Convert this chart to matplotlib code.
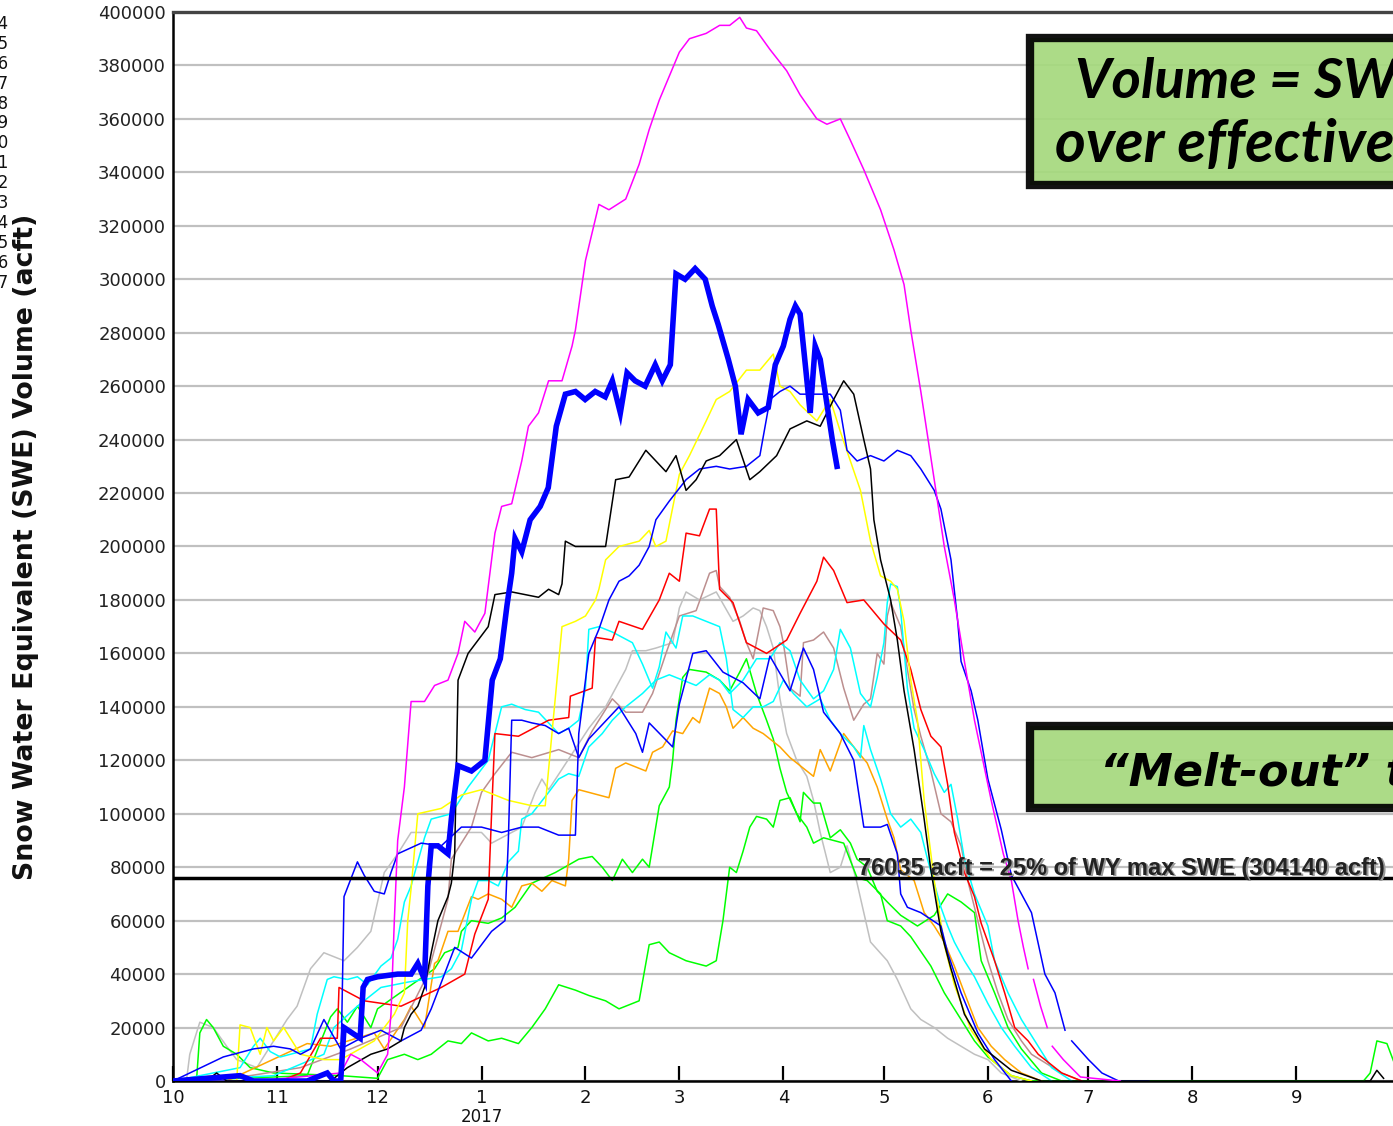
import numpy as np
import matplotlib
matplotlib.use("Agg")
import matplotlib.pyplot as plt
from matplotlib.patches import Rectangle

W, H = 1393, 1126
nan = np.nan

# x = day of water year (0 = 1 Oct 2016), y = SWE volume in 1000 acft
month_starts = [0, 31, 61, 92, 123, 151, 182, 212, 243, 273, 304, 335]
month_labels = ["10", "11", "12", "1", "2", "3", "4", "5", "6", "7", "8", "9"]
legend_years = [str(y) for y in range(2004, 2018)]

melt_out = 76035
wy_max = 304140

magenta = [(0, 0), (20, 2), (25, 0), (50, 3), (53, 10), (56, 8), (61, 3), (64, 10), (65, 25), (66, 60),
           (67, 90), (69, 110), (71, 142), (75, 142), (78, 148), (82, 150), (85, 160), (87, 172), (90, 168),
           (93, 175), (96, 205), (98, 215), (101, 216), (104, 232), (106, 245), (109, 250), (112, 262),
           (116, 262), (119, 275), (120, 281), (123, 307), (127, 328), (130, 326), (135, 330), (139, 343),
           (142, 356), (145, 367), (148, 376), (151, 385), (154, 390), (159, 392), (163, 395), (166, 395),
           (169, 398), (171, 394), (174, 393), (178, 386), (183, 378), (187, 369), (192, 360), (195, 358),
           (199, 360), (202, 352), (206, 341), (211, 326), (215, 311), (218, 298), (220, 281), (223, 258),
           (227, 225), (230, 200), (233, 180), (236, 157), (239, 135), (244, 105), (247.6, 85), (250, 75),
           (252, 60), (253.6, 50), (255, 42), (255.5, nan), (256.6, 38), (258.7, 28), (260.7, 20), (261.5, nan),
           (262.2, 13), (265.5, 8), (270.6, 1.5), (282.5, 0)]

blue_2017 = [(0, 0), (20, 2), (24, 0), (40, 0), (46, 3), (48, 0), (50, 0), (51, 20), (55.8, 16), (56.7, 35),
             (58, 38), (61, 39), (67, 40), (71, 40), (73, 44), (75, 38), (76, 73), (77, 88), (79, 88), (82, 85),
             (83, 98), (85, 118), (89, 116), (93, 120), (95.2, 150), (97.6, 158), (99.6, 178), (101, 190),
             (102, 203), (104, 198), (106.5, 210), (109.5, 215), (111.9, 222), (114.3, 245), (117, 257),
             (120, 258), (122.9, 255), (125.9, 258), (128.9, 256), (131, 262), (133.4, 250), (135.4, 265),
             (137.8, 262), (140.8, 260), (143.8, 268), (145.9, 262), (148.3, 268), (150, 302), (152.7, 300),
             (155.7, 304), (158.7, 300), (160.8, 290), (162.6, 283), (165.6, 270), (167.7, 260), (169.4, 242),
             (171.5, 255), (174.5, 250), (177.5, 252), (179.6, 268), (182, 275), (184, 285), (185.6, 290),
             (187, 287), (188.8, 265), (190, 250), (191.5, 275), (193, 270), (194.8, 255), (196.6, 240),
             (198, 230)]

black = [(0, 0), (10, 0), (13, 3), (16, 0), (47, 0), (52, 5), (59, 10), (64, 12), (68, 15), (69, 20), (71, 25),
         (73, 28), (75, 35), (77, 48), (79, 60), (82, 69), (83, 74), (84, 85), (85, 150), (88, 160), (94, 170),
         (96, 182), (101, 183), (109, 181), (112, 184), (115, 182), (116, 186), (117, 202), (120, 200),
         (124, 200), (129, 200), (132, 225), (136, 226), (141, 236), (144, 232), (147, 228), (150, 234),
         (153, 221), (156, 225), (159, 232), (163, 234), (168, 240), (172, 225), (175, 228), (180, 234),
         (184, 244), (189, 247), (193, 245), (197, 255), (200, 262), (203, 257), (206, 240), (208, 229),
         (209, 210), (211, 195), (214, 180), (216, 165), (218, 146), (221, 124), (224, 98), (226, 79),
         (229, 56), (232, 42), (236, 25), (242, 12), (250, 4), (259, 0), (357, 0), (359, 4), (361, 1)]

yellow = [(0, 0), (19, 0), (20, 21), (23, 20), (26, 10), (28, 20), (30, 15), (33, 20), (38, 10), (45, 8),
          (50, 8), (60, 15), (66, 25), (69, 33), (70, 60), (71, 72), (73, 100), (80, 102), (86, 107), (92, 109),
          (100, 105), (107, 103), (111, 103), (113, 130), (116, 170), (120, 172), (123, 174), (126, 180),
          (127, 184), (129, 195), (133, 200), (139, 202), (142, 206), (144, 200), (147, 202), (151, 227),
          (154, 234), (159, 247), (162, 255), (166, 258), (171, 266), (175, 266), (179, 272), (181, 260),
          (184, 258), (187, 253), (192, 247), (196, 255), (199, 243), (202, 232), (205, 221), (208, 202),
          (211, 189), (214, 187), (216, 184), (218, 172), (220, 150), (222, 135), (224, 105), (227, 75),
          (230, 51), (233, 36), (238, 19), (244, 8), (250, 2), (256, 0)]

blue_late = [(0, 0), (50, 0), (51, 69), (55, 82), (57, 77), (60, 71), (63, 70), (65, 78), (67, 85), (74, 89),
             (80, 88), (86, 95), (92, 95), (98, 93), (104, 95), (109, 95), (115, 92), (120, 92), (121, 130),
             (124, 160), (127, 169), (130, 180), (133, 187), (136, 189), (139, 193), (142, 200), (144, 210),
             (148, 217), (153, 225), (157, 229), (162, 230), (166, 229), (171, 230), (175, 234), (178, 255),
             (181, 258), (184, 260), (187, 257), (192, 257), (196, 257), (199, 251), (201, 236), (204, 232),
             (208, 234), (212, 232), (216, 236), (220, 234), (223, 229), (227, 221), (229, 214), (232, 195),
             (234, 172), (235, 157), (238, 146), (240, 135), (243, 113), (247, 94), (250, 77), (256, 63),
             (260, 40), (263, 33), (266, 19), (267, nan), (268, 15), (273, 8), (277, 3), (282, 0), (291, 0)]

blue_early = [(0, 0), (15, 9), (24, 12), (30, 13), (35, 12), (38, 10), (41, 12), (45, 23), (50, 12), (56, 16),
              (62, 19), (68, 15), (74, 19), (77, 27), (84, 50), (89, 46), (95, 56), (99, 60), (100, 90),
              (101, 135), (104, 135), (107, 134), (111, 133), (115, 130), (118, 132), (121, 121), (124, 128),
              (133, 140), (138, 130), (140, 123), (142, 134), (149, 125), (151, 141), (155, 160), (159, 161),
              (164, 153), (170, 149), (175, 143), (178, 159), (184, 146), (188, 162), (191, 154), (194, 138),
              (199, 130), (203, 120), (206, 95), (211, 95), (213, 96), (216, 85), (217, 70), (219, 65),
              (223, 63), (229, 58), (231, 48), (235, 33), (240, 18), (245, 8), (250, 0)]

red = [(0, 0), (32, 0), (38, 3), (44, 16), (49, 16), (49.5, 35), (57, 30), (68, 28), (80, 35), (87, 40),
       (90, 55), (94, 68), (95, 100), (96, 130), (103, 129), (112, 135), (118, 136), (118.5, 144), (125, 147),
       (126, 166), (131, 165), (133, 172), (140, 169), (145, 180), (148, 190), (151, 187), (153, 205),
       (157, 204), (160, 214), (162, 214), (163, 184), (167, 179), (171, 164), (177, 160), (183, 165),
       (187, 175), (192, 187), (194, 196), (197, 191), (201, 179), (206, 180), (212, 171), (217, 165),
       (220, 154), (223, 139), (226, 129), (229, 125), (231, 111), (233, 93), (236, 78), (239, 69), (241, 59),
       (245, 45), (248, 33), (251, 20), (255, 15), (258, 10), (265, 3), (271, 0)]

brown = [(0, 0), (23, 2), (38, 5), (53, 12), (68, 20), (76, 40), (82, 68), (83, 83), (89, 95), (92, 108),
         (96, 115), (101, 123), (107, 121), (115, 124), (121, 121), (125, 131), (131, 143), (135, 138),
         (140, 138), (143, 145), (147, 160), (151, 174), (156, 176), (160, 190), (162, 191), (163, 185),
         (166, 181), (169, 172), (171, 164), (173, 158), (176, 177), (179, 176), (181, 170), (182, 164),
         (184, 147), (187, 144), (188, 164), (191, 165), (194, 168), (197, 162), (200, 147), (203, 135),
         (206, 141), (208, 143), (210, 160), (212, 156), (213, 174), (214, 179), (217, 170), (219, 154),
         (221, 139), (223, 129), (226, 116), (229, 100), (232, 97), (235, 88), (237, 75), (240, 60), (243, 45),
         (246, 33), (249, 23), (253, 15), (256, 10), (265, 3), (271, 0)]

cyan_a = [(0, 0), (20, 5), (24, 13), (26, 16), (29, 11), (32, 9), (41, 12), (43, 25), (46, 38), (48, 39),
          (52, 38), (55, 39), (58, 36), (62, 43), (65, 46), (67, 53), (69, 67), (71, 73), (73, 82), (75, 91),
          (77, 98), (83, 100), (88, 110), (94, 120), (98, 140), (101, 141), (105, 139), (109, 138), (112, 134),
          (115, 130), (118, 132), (121, 135), (123, 147), (124, 169), (127, 170), (131, 168), (134, 166),
          (137, 164), (140, 156), (143, 147), (145, 155), (147, 168), (150, 162), (152, 174), (155, 174),
          (161, 171), (163, 170), (165, 158), (167, 139), (170, 136), (173, 140), (176, 140), (179, 142),
          (182, 150), (185, 145), (189, 140), (193, 143), (196, 135), (199, 130), (203, 125), (205, 121),
          (206, 133), (208, 124), (211, 113), (214, 100), (217, 95), (220, 98), (223, 93), (225, 83), (229, 65),
          (231, 58), (233, 52), (236, 45), (239, 39), (243, 29), (247, 20), (251, 13), (256, 5), (262, 0)]

cyan_b = [(0, 0), (30, 2), (45, 10), (48, 20), (55, 28), (62, 35), (70, 37), (80, 39), (83, 42), (86, 49),
          (89, 68), (91, 75), (94, 75), (97, 73), (100, 82), (103, 86), (104, 98), (107, 100), (112, 108),
          (115, 113), (118, 115), (121, 114), (124, 125), (128, 130), (131, 135), (135, 140), (140, 145),
          (144, 150), (148, 152), (152, 150), (156, 148), (160, 152), (163, 150), (166, 145), (170, 150),
          (174, 158), (178, 158), (181, 164), (184, 161), (187, 150), (191, 143), (194, 146), (197, 154),
          (199, 169), (202, 162), (205, 145), (208, 140), (210, 151), (212, 164), (213, 179), (214, 186),
          (216, 185), (217, 176), (219, 147), (221, 132), (224, 124), (227, 115), (230, 108), (232, 111),
          (234, 98), (236, 83), (239, 70), (243, 58), (245, 45), (249, 33), (253, 23), (257, 15), (262, 5),
          (268, 0)]

gray = [(0, 0), (4, 0), (5, 10), (8, 22), (12, 20), (16, 13), (19, 8), (25, 5), (34, 23), (37, 28), (41, 42),
        (45, 48), (51, 45), (55, 50), (59, 56), (63, 78), (67, 85), (71, 93), (92, 93), (95, 89), (104, 95),
        (108, 108), (110, 113), (112, 109), (124, 132), (129, 140), (135, 154), (137, 161), (141, 161),
        (144, 162), (149, 164), (151, 177), (153, 183), (157, 180), (162, 183), (167, 172), (170, 174),
        (173, 177), (175, 176), (177, 170), (179, 162), (181, 143), (183, 130), (186, 120), (189, 114),
        (191, 105), (193, 93), (196, 78), (199, 80), (201, 88), (204, 74), (208, 52), (213, 45), (216, 38),
        (220, 27), (223, 23), (227, 20), (231, 16), (235, 13), (239, 10), (243, 8), (247, 3), (253, 0)]

green_low = [(0, 0), (7, 0), (8, 18), (10, 23), (12, 20), (15, 13), (19, 10), (23, 5), (30, 3), (50, 2), (61, 1),
             (64, 8), (69, 10), (73, 8), (77, 10), (80, 13), (82, 15), (86, 14), (89, 18), (94, 15), (98, 16),
             (103, 14), (107, 20), (111, 27), (115, 36), (120, 34), (124, 32), (129, 30), (133, 27), (139, 30),
             (142, 51), (145, 52), (148, 48), (153, 45), (159, 43), (162, 45), (164, 60), (166, 80), (168, 78),
             (170, 86), (172, 95), (174, 99), (177, 98), (179, 95), (181, 105), (184, 106), (187, 97),
             (188, 108), (191, 104), (193, 104), (196, 91), (199, 94), (202, 89), (204, 83), (207, 80),
             (210, 71), (213, 67), (217, 62), (222, 58), (227, 62), (231, 70), (235, 67), (239, 63), (241, 45),
             (245, 33), (249, 20), (253, 12), (259, 3), (265, 0)]

green_high = [(0, 0), (40, 2), (47, 24), (49, 27), (52, 22), (55, 28), (59, 20), (61, 27), (70, 35), (78, 42),
              (81, 48), (85, 50), (86, 56), (89, 60), (94, 59), (98, 61), (102, 65), (107, 74), (114, 78),
              (121, 83), (125, 84), (128, 80), (131, 75), (134, 83), (137, 78), (140, 83), (142, 80), (145, 103),
              (148, 110), (149, 120), (150, 135), (152, 151), (154, 154), (159, 153), (163, 150), (166, 146),
              (169, 153), (171, 158), (174, 145), (177, 135), (179, 128), (181, 117), (183, 108), (186, 100),
              (189, 95), (191, 89), (194, 91), (200, 89), (204, 76), (207, 75), (211, 70), (213, 60), (217, 58),
              (220, 54), (226, 43), (230, 33), (235, 23), (239, 15), (243, 9), (250, 2), (256, 0), (355, 0),
              (357, 3), (359, 15), (362, 14), (365, 4)]

orange = [(0, 0), (12, 2), (16, 0), (40, 14), (47, 13), (60, 18), (63, 12), (69, 23), (71, 28), (75, 20),
          (78, 44), (79, 45), (82, 56), (85, 56), (89, 69), (91, 68), (94, 70), (98, 68), (101, 65), (104, 73),
          (107, 74), (110, 71), (113, 75), (117, 73), (118, 83), (119, 105), (121, 109), (124, 108), (130, 106),
          (132, 117), (135, 119), (139, 117), (141, 116), (143, 123), (146, 125), (149, 131), (152, 130),
          (155, 136), (157, 134), (160, 147), (163, 145), (165, 140), (167, 132), (170, 136), (173, 132),
          (176, 130), (181, 125), (184, 121), (188, 117), (191, 114), (193, 124), (196, 116), (200, 130),
          (203, 125), (207, 119), (210, 110), (213, 98), (215, 91), (217, 79), (221, 75), (224, 63), (227, 58),
          (230, 52), (233, 43), (236, 33), (240, 20), (244, 13), (248, 8), (253, 3), (259, 0)]

series = [
    (gray, "#c0c0c0"), (green_low, "#00ff00"), (green_high, "#00ff00"), (orange, "#ffa500"),
    (brown, "#bc8f8f"), (cyan_a, "#00ffff"), (cyan_b, "#00ffff"), (red, "#ff0000"),
    (yellow, "#ffff00"), (blue_early, "#0000ff"), (blue_late, "#0000ff"), (black, "#000000"),
    (magenta, "#ff00ff"),
]


def fx(px):
    return px / W


def fy(py):
    return 1 - py / H


fig = plt.figure(figsize=(W / 100, H / 100), dpi=100)
ax = fig.add_axes([fx(173), fy(1081), (1397 - 173) / W, (1081 - 12) / H])

for pts, color in series:
    d, v = np.array(pts, dtype=float).T
    ax.plot(d, v * 1000, color=color, lw=1.1, zorder=3)

d, v = np.array(blue_2017, dtype=float).T
ax.plot(d, v * 1000, color="#0000ff", lw=4, zorder=4, solid_joinstyle="miter")

ax.axhline(melt_out, color="black", lw=2.5, zorder=5)
label = f"{melt_out} acft = 25% of WY max SWE ({wy_max} acft)"
ax.text(204.9, melt_out + 600, label, fontsize=17, fontweight="bold", family="Liberation Sans",
        color="#9a9a9a", ha="left", va="baseline", zorder=6)
ax.text(204.4, melt_out + 1200, label, fontsize=17, fontweight="bold", family="Liberation Sans",
        color="#222222", ha="left", va="baseline", zorder=7)

ax.set_xlim(0, 365)
ax.set_ylim(0, 400000)
ax.set_yticks(range(0, 400001, 20000))
ax.set_yticklabels([str(t) for t in range(0, 400001, 20000)], fontsize=13, color="#222222")
ax.set_xticks(month_starts)
ax.set_xticklabels(month_labels, fontsize=13, color="#111111")
ax.tick_params(axis="y", length=0, pad=5)
ax.tick_params(axis="x", direction="in", length=11, width=1.6, pad=6)
ax.grid(axis="y", color="#c0c0c0", lw=1.6)
ax.set_axisbelow(True)
for side in ["left", "bottom"]:
    ax.spines[side].set_linewidth(1.8)
ax.spines["top"].set_linewidth(2.4)
ax.spines["top"].set_color("#444444")
ax.spines["right"].set_visible(False)

ax.text(92, -13500, "2017", fontsize=12, ha="center", va="center", color="#111111")

fig.text(fx(26), fy(547), "Snow Water Equivalent (SWE) Volume (acft)", rotation=90,
         ha="center", va="center", fontsize=19.3, fontweight="bold", color="#111111")

for i, year in enumerate(legend_years):
    fig.text(fx(9), fy(24 + i * 19.9), year, ha="right", va="center", fontsize=12, color="#111111")

box_fill = "#a6d97e"
fig.patches.append(Rectangle((fx(1030), fy(185)), fx(1400) - fx(1030), fy(38) - fy(185),
                             transform=fig.transFigure, facecolor=box_fill, edgecolor="black",
                             lw=6, alpha=0.93, zorder=10))
fig.patches.append(Rectangle((fx(1030), fy(808)), fx(1400) - fx(1030), fy(726) - fy(808),
                             transform=fig.transFigure, facecolor=box_fill, edgecolor="black",
                             lw=6, alpha=0.93, zorder=10))

box_font = dict(fontweight="bold", style="italic", color="black", zorder=11)
fig.text(fx(1075), fy(98), "Volume = SWE", family="Lato", fontsize=40.5, ha="left", va="baseline",
         **box_font)
fig.text(fx(1055), fy(162), "over effective", family="Lato", fontsize=42.5, ha="left", va="baseline",
         **box_font)
fig.text(fx(1100), fy(785), "\u201cMelt-out\u201d threshold", family="DejaVu Sans", fontsize=32,
         ha="left", va="baseline", **box_font)

fig.savefig("out.png", dpi=100)
